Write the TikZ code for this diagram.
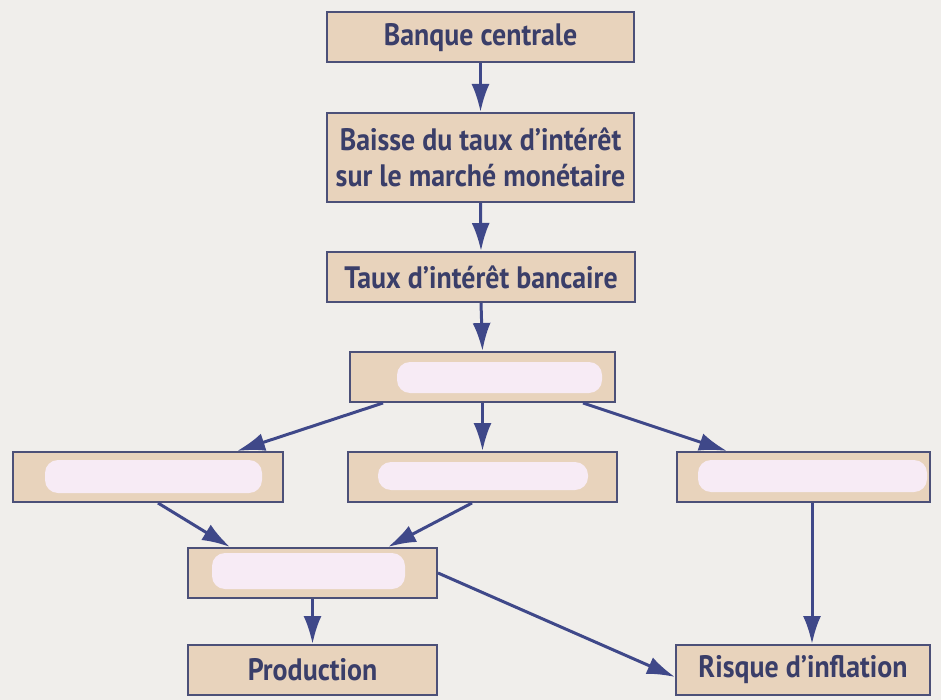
\documentclass[tikz,border=0pt]{standalone}
\usepackage{fontspec}
\setmainfont[FakeStretch=0.9]{PT Sans}
\usetikzlibrary{arrows.meta,calc}
\definecolor{bgc}{HTML}{F0EEEB}
\definecolor{boxfill}{HTML}{E8D3BC}
\definecolor{boxline}{HTML}{4C5078}
\definecolor{arr}{HTML}{3F4889}
\definecolor{txt}{HTML}{3A3E69}
\definecolor{blob}{HTML}{F7EBF5}
\tikzset{
  fbox/.style={draw=boxline, line width=2pt, fill=boxfill, rectangle, inner sep=0pt,
    text=txt, font=\bfseries\fontsize{31}{36}\selectfont, align=center},
  arrowline/.style={draw=arr, line width=3pt, -{Latex[length=28pt,width=18pt]}},
  blobfill/.style={fill=blob, rounded corners=13pt}
}
\begin{document}
\begin{tikzpicture}[x=1pt,y=-1pt]
\useasboundingbox (0,0) rectangle (941,700);
\fill[bgc] (0,0) rectangle (941,700);

\node[fbox, minimum width=307pt, minimum height=50pt] (n1) at (480.5,37.5) {Banque centrale};
\node[fbox, minimum width=307pt, minimum height=89pt] (n2) at (480.5,157.5) {Baisse du taux d’intérêt\\sur le marché monétaire};
\node[fbox, minimum width=308pt, minimum height=50pt] (n3) at (481,277) {Taux d’intérêt bancaire};
\node[fbox, minimum width=265pt, minimum height=50pt] (n4) at (482.5,377) {};
\node[fbox, minimum width=270pt, minimum height=50pt] (n5) at (148,477) {};
\node[fbox, minimum width=269pt, minimum height=50pt] (n6) at (482.5,477) {};
\node[fbox, minimum width=253pt, minimum height=50pt] (n7) at (803.5,477) {};
\node[fbox, minimum width=249pt, minimum height=50pt] (n8) at (312.5,573) {};
\node[fbox, minimum width=249pt, minimum height=50pt] (n9) at (312.5,670) {Production};
\node[fbox, minimum width=254pt, minimum height=50pt] (n10) at (803,670) {Risque d’inflation};

% whiteout blobs
\fill[blobfill] (397,362) rectangle (602,393);
\fill[blobfill] (45,460) rectangle (262,493);
\fill[blobfill] (378,462) rectangle (588,490);
\fill[blobfill] (698,460) rectangle (927,492);
\fill[blobfill] (212,553) rectangle (405,589);

% connectors
\draw[arrowline] (n1.south) -- (n2.north);
\draw[arrowline] (n2.south) -- (n3.north);
\draw[arrowline] (n3.south) -- (n4.north);
\draw[arrowline] ([xshift=-99.5pt]n4.south) -- ([xshift=89pt]n5.north);
\draw[arrowline] (n4.south) -- (n6.north);
\draw[arrowline] ([xshift=100.5pt]n4.south) -- ([xshift=-76.5pt]n7.north);
\draw[arrowline] ([xshift=10pt]n5.south) -- ([xshift=-82.5pt]n8.north);
\draw[arrowline] ([xshift=-10.5pt]n6.south) -- ([xshift=75.5pt]n8.north);
\draw[arrowline] (n8.south) -- (n9.north);
\draw[arrowline] (n8.east) -- ([yshift=-7pt]n10.west);
\draw[arrowline] ([xshift=8.5pt]n7.south) -- ([xshift=9pt]n10.north);
\end{tikzpicture}
\end{document}
